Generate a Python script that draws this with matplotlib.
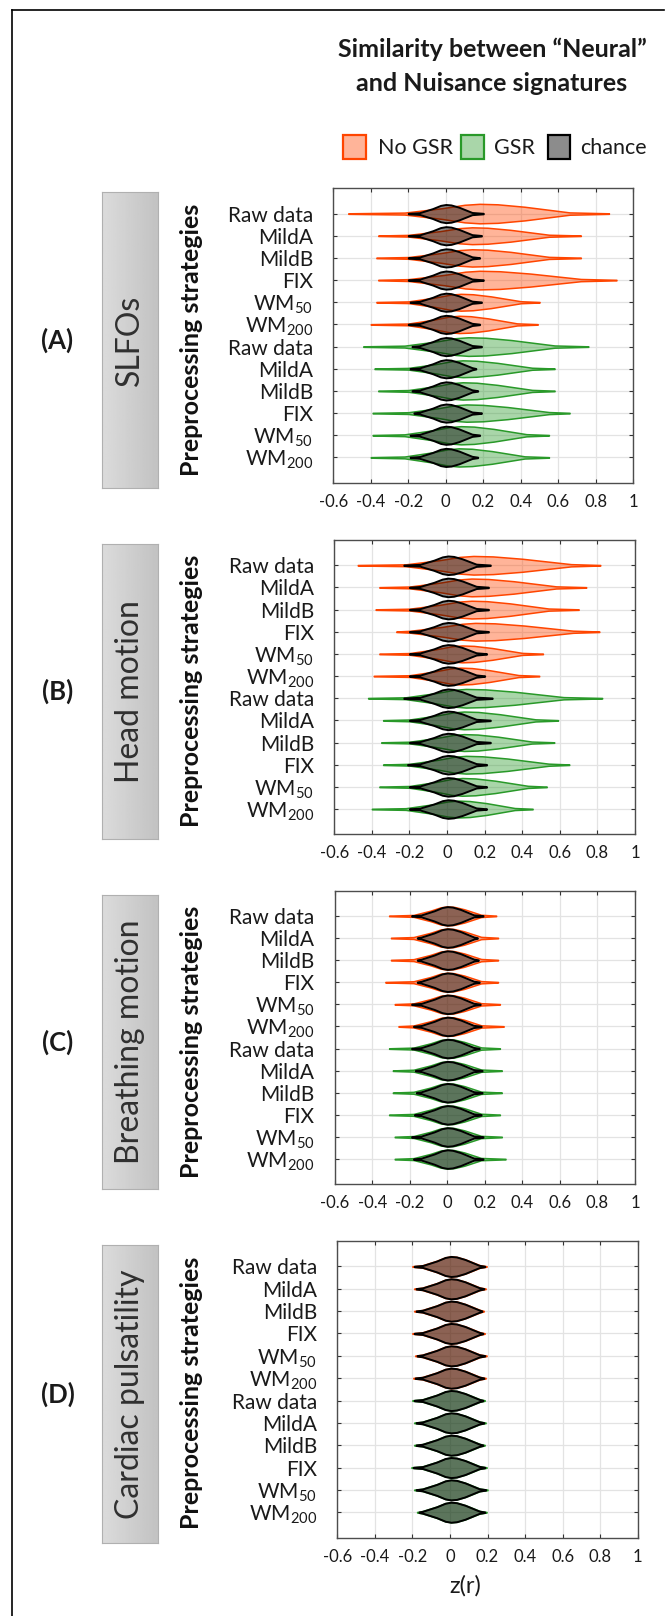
import numpy as np
import matplotlib
matplotlib.use("Agg")
import matplotlib.pyplot as plt
from matplotlib.lines import Line2D
from matplotlib.patches import Rectangle

plt.rcParams['font.family'] = ['Lato', 'DejaVu Sans']
plt.rcParams['mathtext.fontset'] = 'custom'
plt.rcParams['mathtext.rm'] = 'Lato'
plt.rcParams['mathtext.it'] = 'Lato:italic'
plt.rcParams['mathtext.bf'] = 'Lato:bold'
plt.rcParams['axes.unicode_minus'] = False

W, H = 667, 1616

# ---- labels ----
strategies = ['Raw data', 'MildA', 'MildB', 'FIX', 'WM$_{50}$', 'WM$_{200}$',
              'Raw data', 'MildA', 'MildB', 'FIX', 'WM$_{50}$', 'WM$_{200}$']
xticks = [-0.6, -0.4, -0.2, 0, 0.2, 0.4, 0.6, 0.8, 1]
xticklabels = ['-0.6', '-0.4', '-0.2', '0', '0.2', '0.4', '0.6', '0.8', '1']
panel_letters = ['(A)', '(B)', '(C)', '(D)']
nuisance_names = ['SLFOs', 'Head motion', 'Breathing motion', 'Cardiac pulsatility']
legend_names = ['No GSR', 'GSR', 'chance']

# ---- violin outlines, z(r) ----
# rows 1-6: No GSR, rows 7-12: GSR
# lo/hi = ends of the tails, body_lo/body_hi = where the body starts/ends,
# mode = widest point, width = half height at the mode (in row units)
slfo_lo = [-0.52, -0.36, -0.37, -0.36, -0.37, -0.40, -0.44, -0.38, -0.36, -0.39, -0.39, -0.40]
slfo_hi = [0.87, 0.72, 0.72, 0.91, 0.50, 0.49, 0.76, 0.58, 0.58, 0.66, 0.55, 0.55]
slfo_body_lo = [-0.22, -0.20, -0.20, -0.20, -0.20, -0.20, -0.22, -0.20, -0.20, -0.20, -0.22, -0.22]
slfo_mode = [0.18, 0.14, 0.14, 0.18, 0.08, 0.07, 0.12, 0.09, 0.09, 0.11, 0.08, 0.07]
slfo_body_hi = [0.66, 0.55, 0.55, 0.72, 0.40, 0.38, 0.58, 0.46, 0.46, 0.55, 0.43, 0.42]
slfo_width = [0.44, 0.38, 0.39, 0.42, 0.38, 0.39, 0.42, 0.38, 0.39, 0.39, 0.41, 0.41]
slfo_chance_lo = [-0.20, -0.20, -0.20, -0.20, -0.19, -0.20, -0.18, -0.19, -0.18, -0.17, -0.19, -0.19]
slfo_chance_hi = [0.20, 0.19, 0.18, 0.20, 0.19, 0.18, 0.19, 0.16, 0.17, 0.19, 0.18, 0.17]

motion_lo = [-0.475, -0.36, -0.38, -0.27, -0.36, -0.39, -0.42, -0.34, -0.35, -0.34, -0.36, -0.40]
motion_hi = [0.815, 0.74, 0.70, 0.81, 0.51, 0.49, 0.825, 0.59, 0.57, 0.65, 0.53, 0.455]
motion_body_lo = [-0.22, -0.20, -0.20, -0.20, -0.20, -0.20, -0.22, -0.20, -0.20, -0.20, -0.20, -0.22]
motion_mode = [0.14, 0.13, 0.13, 0.15, 0.08, 0.07, 0.10, 0.09, 0.09, 0.10, 0.08, 0.06]
motion_body_hi = [0.66, 0.58, 0.54, 0.67, 0.40, 0.38, 0.62, 0.47, 0.45, 0.54, 0.43, 0.36]
motion_width = [0.42, 0.40, 0.40, 0.40, 0.38, 0.38, 0.42, 0.40, 0.38, 0.40, 0.40, 0.38]
motion_chance_lo = [-0.23, -0.20, -0.20, -0.20, -0.20, -0.20, -0.23, -0.20, -0.20, -0.21, -0.20, -0.20]
motion_chance_hi = [0.23, 0.22, 0.22, 0.22, 0.21, 0.20, 0.24, 0.23, 0.23, 0.21, 0.21, 0.21]

breath_lo = [-0.31, -0.30, -0.30, -0.33, -0.28, -0.26, -0.31, -0.29, -0.29, -0.31, -0.28, -0.28]
breath_hi = [0.26, 0.27, 0.27, 0.27, 0.28, 0.30, 0.28, 0.29, 0.29, 0.28, 0.29, 0.31]
breath_body_lo = [-0.18] * 12
breath_mode = [0.0] * 12
breath_body_hi = [0.18] * 12
breath_width = [0.43] * 12
breath_chance_lo = [-0.19, -0.16, -0.16, -0.16, -0.19, -0.18, -0.19, -0.17, -0.165, -0.175, -0.19, -0.18]
breath_chance_hi = [0.19, 0.16, 0.165, 0.17, 0.175, 0.18, 0.17, 0.185, 0.185, 0.18, 0.19, 0.19]

cardiac_lo = [-0.20, -0.19, -0.19, -0.20, -0.185, -0.195, -0.20, -0.19, -0.19, -0.205, -0.19, -0.175]
cardiac_hi = [0.195, 0.19, 0.18, 0.185, 0.195, 0.19, 0.185, 0.19, 0.185, 0.195, 0.20, 0.195]
cardiac_body_lo = [-0.15] * 12
cardiac_mode = [0.005] * 12
cardiac_body_hi = [0.16] * 12
cardiac_width = [0.45] * 12
cardiac_chance_lo = [-0.19, -0.18, -0.18, -0.19, -0.175, -0.185, -0.19, -0.18, -0.18, -0.195, -0.18, -0.165]
cardiac_chance_hi = [0.185, 0.18, 0.17, 0.175, 0.185, 0.18, 0.175, 0.18, 0.175, 0.185, 0.19, 0.185]

# chance: body half span and half height per panel
chance_span = [0.14, 0.15, 0.14, 0.15]
chance_width = [0.41, 0.42, 0.42, 0.45]
chance_mode = [0.0, 0.005, 0.0, 0.005]

panels = [
    (slfo_lo, slfo_hi, slfo_body_lo, slfo_mode, slfo_body_hi, slfo_width, slfo_chance_lo, slfo_chance_hi),
    (motion_lo, motion_hi, motion_body_lo, motion_mode, motion_body_hi, motion_width, motion_chance_lo, motion_chance_hi),
    (breath_lo, breath_hi, breath_body_lo, breath_mode, breath_body_hi, breath_width, breath_chance_lo, breath_chance_hi),
    (cardiac_lo, cardiac_hi, cardiac_body_lo, cardiac_mode, cardiac_body_hi, cardiac_width, cardiac_chance_lo, cardiac_chance_hi),
]

# ---- style ----
ORANGE = (1.0, 0.27, 0.0)
GREEN = (0.16, 0.60, 0.16)
TAIL = 0.012

# axes boxes in pixels: left, top, right, bottom
axes_px = [(333.3, 188.3, 633.3, 482.7), (334.3, 540.0, 635.0, 834.3),
           (334.7, 890.7, 635.0, 1184.3), (337.3, 1241.0, 637.7, 1537.7)]


def fx(px):
    return px / W


def fy(py):
    return 1 - py / H


def outline(lo, blo, mode, bhi, hi, width):
    xs = [lo, blo, mode - 0.5 * (mode - blo), mode - 0.2 * (mode - blo), mode,
          mode + 0.2 * (bhi - mode), mode + 0.5 * (bhi - mode), bhi, hi]
    ws = [TAIL, 0.1 * width, 0.55 * width, 0.9 * width, width,
          0.95 * width, 0.7 * width, 0.12 * width, TAIL]
    return np.array(xs), np.array(ws)


def draw_violin(ax, row, xs, ws, color, alpha, lw):
    ax.fill_between(xs, row - ws, row + ws, facecolor=(*color, alpha),
                    edgecolor=color, linewidth=lw, zorder=3)


fig = plt.figure(figsize=(W / 100, H / 100), dpi=100)

# page frame (top and left rules)
fig.add_artist(Line2D([fx(11.5), fx(664)], [fy(9.5), fy(9.5)], color='black', lw=1.2))
fig.add_artist(Line2D([fx(11.5), fx(11.5)], [fy(9.5), 0], color='black', lw=1.2))

for p, (lo, hi, blo, mode, bhi, width, clo, chi) in enumerate(panels):
    left, top, right, bottom = axes_px[p]
    ax = fig.add_axes([fx(left), fy(bottom), (right - left) / W, (bottom - top) / H])
    rows = np.arange(1, 13)
    for i, r in enumerate(rows):
        color = ORANGE if i < 6 else GREEN
        xs, ws = outline(lo[i], blo[i], mode[i], bhi[i], hi[i], width[i])
        draw_violin(ax, r, xs, ws, color, 0.4, 1.1)
        cm = chance_mode[p]
        xs, ws = outline(clo[i], cm - chance_span[p], cm, cm + chance_span[p], chi[i], chance_width[p])
        draw_violin(ax, r, xs, ws, (0, 0, 0), 0.45, 1.4)

    ax.set_xlim(-0.6, 1)
    ax.set_ylim(13.14, -0.14)
    ax.set_xticks(xticks)
    ax.set_xticklabels(xticklabels)
    ax.set_yticks(rows)
    ax.set_yticklabels(strategies)
    ax.grid(True, color='#e3e3e3', lw=0.9)
    ax.set_axisbelow(True)
    ax.tick_params(axis='both', direction='in', length=3, width=0.8, color='#333333',
                   top=True, right=True, labelcolor='#1a1a1a')
    ax.tick_params(axis='y', pad=14.5, labelsize=15)
    ax.tick_params(axis='x', pad=8, labelsize=12)
    for s in ax.spines.values():
        s.set_color('#4d4d4d')
        s.set_linewidth(1.0)

    # grey side label with gradient
    bt, bb = top + 4, bottom + 5
    bax = fig.add_axes([fx(101.7), fy(bb), (158.3 - 101.7) / W, (bb - bt) / H])
    bax.imshow(np.linspace(0.86, 0.76, 64)[None, :], cmap='gray', vmin=0, vmax=1,
               aspect='auto', extent=(0, 1, 0, 1))
    bax.set_xticks([])
    bax.set_yticks([])
    for s in bax.spines.values():
        s.set_color('#b0b0b0')
        s.set_linewidth(0.8)
    bax.text(0.5, 0.5, nuisance_names[p], rotation=90, ha='center', va='center',
             fontsize=23, color='#303030', transform=bax.transAxes)

    cy = (bt + bb) / 2
    fig.text(fx(57.5), fy(cy), panel_letters[p], ha='center', va='center',
             fontsize=18.5, fontweight='bold', color='#1a1a1a')
    fig.text(fx(191.7), fy((top + bottom) / 2 + 4), 'Preprocessing strategies', rotation=90,
             ha='center', va='center', fontsize=18, fontweight='bold', color='#111111')

# x axis label of the last panel
fig.text(fx(465.5), fy(1586), 'z(r)', ha='center', va='center', fontsize=17, color='#1a1a1a')

# title
fig.text(fx(492), fy(57), 'Similarity between \u201cNeural\u201d', ha='center', va='baseline',
         fontsize=18, fontweight='bold', color='#1a1a1a')
fig.text(fx(492), fy(91), 'and Nuisance signatures', ha='center', va='baseline',
         fontsize=18, fontweight='bold', color='#1a1a1a')

# legend
legend_box_x = [343.3, 461.0, 547.7]
legend_text_x = [377.6, 494.0, 579.7]
legend_colors = [ORANGE, GREEN, (0, 0, 0)]
for name, bx, tx, c in zip(legend_names, legend_box_x, legend_text_x, legend_colors):
    a = 0.45 if c == (0, 0, 0) else 0.4
    fig.add_artist(Rectangle((fx(bx), fy(159.3)), 22.7 / W, 24.3 / H,
                             facecolor=(*c, a), edgecolor=c, lw=1.6,
                             transform=fig.transFigure))
    fig.text(fx(tx), fy(147.5), name, ha='left', va='center', fontsize=15.5, color='#1a1a1a')

fig.savefig('out.png', dpi=100)
